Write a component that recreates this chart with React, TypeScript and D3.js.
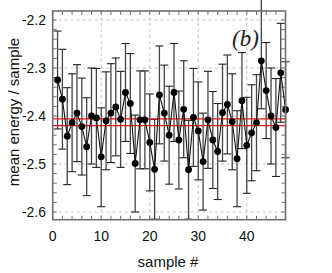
import { line, range, scaleLinear } from "d3";

// mean energy per sample, samples 1..48
const samples = range(1, 49);
const energy = [
  -2.325, -2.365, -2.442, -2.414, -2.394, -2.422, -2.464, -2.4, -2.404, -2.485,
  -2.41, -2.394, -2.381, -2.407, -2.351, -2.374, -2.499, -2.408, -2.408, -2.455,
  -2.511, -2.356, -2.394, -2.44, -2.351, -2.45, -2.386, -2.512, -2.403, -2.431,
  -2.495, -2.408, -2.45, -2.474, -2.393, -2.376, -2.412, -2.489, -2.368, -2.461,
  -2.435, -2.414, -2.285, -2.347, -2.4, -2.424, -2.31, -2.387,
];
const errUp = [
  0.102, 0.104, 0.101, 0.102, 0.101, 0.101, 0.102, 0.1, 0.103, 0.102,
  0.102, 0.103, 0.102, 0.1, 0.102, 0.104, 0.101, 0.102, 0.102, 0.101,
  0.104, 0.102, 0.1, 0.102, 0.102, 0.102, 0.101, 0.103, 0.102, 0.102,
  0.101, 0.101, 0.101, 0.1, 0.101, 0.103, 0.1, 0.1, 0.1, 0.1,
  0.1, 0.1, 0.15, 0.1, 0.1, 0.102, 0.103, 0.1,
];
const errDown = [
  0.102, 0.104, 0.101, 0.102, 0.101, 0.101, 0.102, 0.1, 0.103, 0.104,
  0.102, 0.103, 0.102, 0.1, 0.102, 0.104, 0.101, 0.102, 0.102, 0.101,
  0.104, 0.102, 0.1, 0.102, 0.102, 0.102, 0.101, 0.103, 0.102, 0.102,
  0.101, 0.101, 0.101, 0.1, 0.101, 0.103, 0.1, 0.1, 0.1, 0.1,
  0.1, 0.1, 0.1, 0.1, 0.1, 0.102, 0.103, 0.1,
];
const refLines = [-2.406, -2.42];
const xTicks = [0, 10, 20, 30, 40];
const yTicks = [-2.2, -2.3, -2.4, -2.5, -2.6];

export default function App() {
  const width = 332;
  const height = 273;
  const left = 52.7;
  const right = 285.5;
  const top = 11;
  const bottom = 219.7;

  const x = scaleLinear().domain([0, 48]).range([left, right + 0.1]);
  const y = scaleLinear().domain([-2.6, -2.2]).range([212, 20]);

  const path = line<number>()
    .x((_, i) => x(samples[i]))
    .y((d) => y(d))(energy);

  const xMinor = range(0, 49, 2);
  const yMinor = range(-2.6, -2.17, 0.02).filter((v) => y(v) > top + 1 && y(v) < bottom - 1);
  const font = "'Liberation Sans', Arial, sans-serif";
  const frame = "#707070";

  return (
    <svg
      width={width}
      height={height}
      style={{ position: "absolute", left: 0, top: 0, background: "#fff" }}
    >
      {xTicks.slice(1).map((t) => (
        <line key={t} x1={x(t)} x2={x(t)} y1={top} y2={bottom} stroke="#c4c4c4" strokeDasharray="3 3" />
      ))}
      {yTicks.map((t) => (
        <line key={t} x1={left} x2={right} y1={y(t)} y2={y(t)} stroke="#c4c4c4" strokeDasharray="3 3" />
      ))}

      {xMinor.map((t) => (
        <g key={t} stroke={frame} strokeWidth={1}>
          <line x1={x(t)} x2={x(t)} y1={top} y2={top + 4} />
          <line x1={x(t)} x2={x(t)} y1={bottom} y2={bottom - 4} />
        </g>
      ))}
      {yMinor.map((t) => (
        <g key={t} stroke={frame} strokeWidth={1}>
          <line x1={left} x2={left + 4} y1={y(t)} y2={y(t)} />
          <line x1={right} x2={right - 4} y1={y(t)} y2={y(t)} />
        </g>
      ))}

      {energy.map((v, i) => {
        const cx = x(samples[i]);
        const y1 = y(v + errUp[i]);
        const y2 = y(v - errDown[i]);
        return (
          <g key={i}>
            <line x1={cx} x2={cx} y1={y1} y2={y2} stroke="#444" strokeWidth={1.3} />
            <line x1={cx - 4} x2={cx + 4} y1={y1} y2={y1} stroke="#222" strokeWidth={1.1} />
            <line x1={cx - 4} x2={cx + 4} y1={y2} y2={y2} stroke="#222" strokeWidth={1.1} />
          </g>
        );
      })}

      {refLines.map((v) => (
        <line key={v} x1={left} x2={right} y1={y(v)} y2={y(v)} stroke="#e8101a" strokeWidth={1.4} />
      ))}

      {path ? <path d={path} fill="none" stroke="#111" strokeWidth={1.1} /> : null}
      {energy.map((v, i) => (
        <circle key={i} cx={x(samples[i])} cy={y(v)} r={3.4} fill="#000" />
      ))}

      <rect x={left} y={top} width={right - left} height={bottom - top} fill="none" stroke={frame} strokeWidth={1.6} />

      {xTicks.map((t) => (
        <text key={t} x={x(t)} y={240.5} textAnchor="middle" fontFamily={font} fontSize={14} fill="#111">
          {t}
        </text>
      ))}
      {yTicks.map((t) => (
        <text key={t} x={46} y={y(t) + 5} textAnchor="end" fontFamily={font} fontSize={14} fill="#111">
          {t.toFixed(1)}
        </text>
      ))}

      <text x={168} y={267} textAnchor="middle" fontFamily={font} fontSize={15} fill="#111">
        sample #
      </text>
      <text
        transform="translate(19,112) rotate(-90)"
        textAnchor="middle"
        fontFamily={font}
        fontSize={15}
        fill="#111"
      >
        mean energy / sample
      </text>
      <text x={232} y={46} fontFamily="'Liberation Serif', 'DejaVu Serif', serif" fontStyle="italic" fontSize={23} fill="#222">
        (b)
      </text>
    </svg>
  );
}
